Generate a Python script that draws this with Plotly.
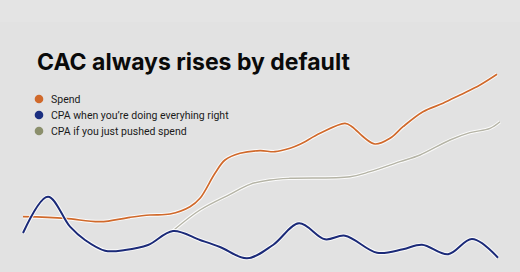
import plotly.graph_objects as go

W, H = 520, 272

# Series (x = time position, y = value)
spend_x = [23, 65, 100, 130, 150, 170, 190, 200, 215, 225, 240, 260, 275, 290, 300, 320, 345, 352, 365, 375, 390, 403, 423, 443, 460, 480, 497]
spend_y = [55.3, 53.7, 50.3, 54.7, 57, 58, 65.3, 73.7, 98.7, 112, 118.7, 121.3, 120.3, 123.7, 127.7, 138.7, 148.7, 145.3, 133.7, 128, 133.7, 145.3, 160.3, 168.7, 177, 187, 197.7]

cpa_good_x = [23, 48, 70, 85, 105, 125, 148, 173, 200, 220, 247, 273, 299, 325, 345, 377, 403, 422, 448, 472, 498]
cpa_good_y = [39, 75.3, 45.3, 32, 21.3, 22, 27, 41, 32, 25, 13.7, 27, 48.7, 32.7, 36.3, 19.3, 22.7, 27.3, 17.7, 33, 14.3]

cpa_push_x = [173, 200, 230, 250, 270, 290, 350, 370, 400, 420, 450, 470, 490, 500]
cpa_push_y = [41.3, 62, 77.7, 87.7, 92, 93.7, 95.3, 100.3, 110.3, 117, 132, 139.3, 143.7, 150.3]

title = "CAC always rises by default"
legend_labels = ["Spend", "CPA when you\u2019re doing everyhing right", "CPA if you just pushed spend"]
legend_colors = ["#d0692b", "#1b2f80", "#8b8f6c"]

ORANGE = "#d0692b"
BLUE = "#1b2a78"
GRAY = "#b5b4a6"

fig = go.Figure()

def add_line(x, y, color, width, halo):
    if halo:
        fig.add_trace(go.Scatter(x=x, y=y, mode="lines", line=dict(color="rgba(255,255,255,0.85)", width=width + 2, shape="spline", smoothing=1.0), hoverinfo="skip", showlegend=False))
    fig.add_trace(go.Scatter(x=x, y=y, mode="lines", line=dict(color=color, width=width, shape="spline", smoothing=1.0), hoverinfo="skip", showlegend=False))

add_line(cpa_push_x, cpa_push_y, GRAY, 1.4, True)
add_line(spend_x, spend_y, ORANGE, 1.7, True)
add_line(cpa_good_x, cpa_good_y, BLUE, 2.0, True)

def py(p):
    return 1 - p / H

annotations = [dict(text="<b>" + title + "</b>", x=35 / W, y=py(62), xref="paper", yref="paper",
                    xanchor="left", yanchor="middle", showarrow=False,
                    font=dict(family="Inter", size=23, color="#0a0a0a"))]
shapes = [dict(type="rect", xref="paper", yref="paper", x0=0, x1=1, y0=py(22), y1=1,
               fillcolor="#e4e4e4", line_width=0, layer="below")]
for i, (lab, col) in enumerate(zip(legend_labels, legend_colors)):
    cy = 99 + 16 * i
    annotations.append(dict(text=lab, x=49 / W, y=py(cy), xref="paper", yref="paper",
                            xanchor="left", yanchor="middle", showarrow=False,
                            font=dict(family="Roboto", size=10.5, color="#1a1a1a")))
    r = 4.3
    shapes.append(dict(type="circle", xref="paper", yref="paper",
                       x0=(39 - r) / W, x1=(39 + r) / W, y0=py(cy + r), y1=py(cy - r),
                       fillcolor=col, line_width=0))

fig.update_layout(
    width=W, height=H,
    margin=dict(l=0, r=0, t=0, b=0),
    paper_bgcolor="#e2e2e2", plot_bgcolor="rgba(0,0,0,0)",
    xaxis=dict(range=[0, W], visible=False, fixedrange=True),
    yaxis=dict(range=[0, H], visible=False, fixedrange=True),
    annotations=annotations, shapes=shapes, showlegend=False,
)

fig.write_html("out.html", config={"displayModeBar": False})
